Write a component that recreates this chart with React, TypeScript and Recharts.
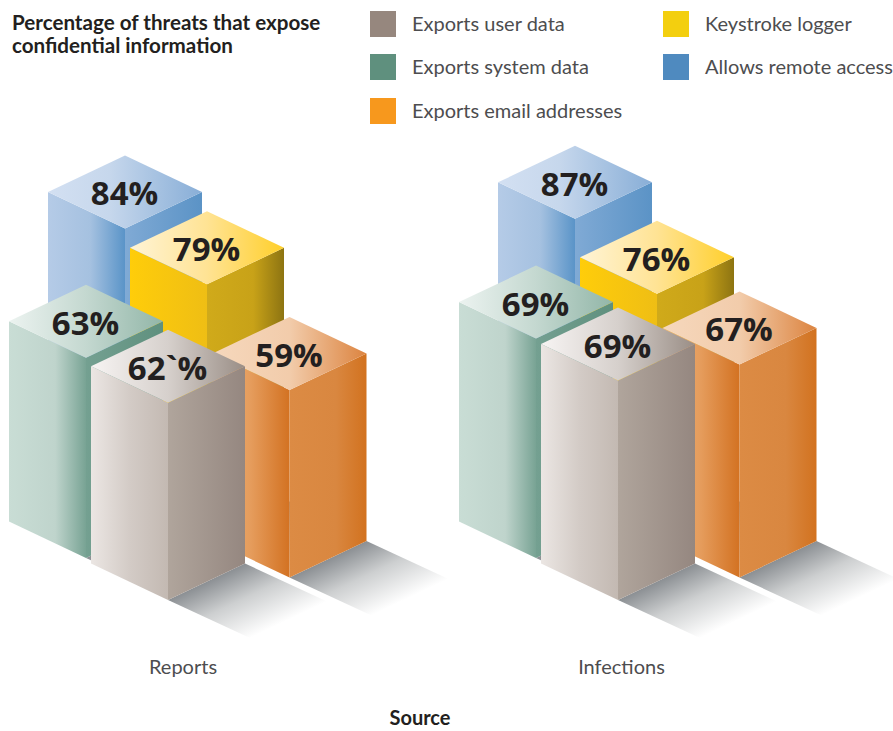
import { BarChart, Bar, XAxis, YAxis, Legend } from 'recharts';

// Percentage of threats per report type
const categories = ['Reports', 'Infections'];
const userData = [62, 69];
const systemData = [63, 69];
const emailData = [59, 67];
const keystrokeData = [79, 76];
const remoteData = [84, 87];
// the source prints a stray backtick on one label, kept as is
const userLabels = ['62`%', '69%'];

const chartData = categories.map((name, i) => ({
  name,
  user: userData[i],
  system: systemData[i],
  email: emailData[i],
  keystroke: keystrokeData[i],
  remote: remoteData[i],
}));

const TEXT_FONT = 'Lato, sans-serif';
const LABEL_FONT = '"Open Sans", sans-serif';
const HALF_W = 77;
const HALF_H = 36.5;
const SHADOW_DX = 82;
const SHADOW_DY = 38;

type Stop = [number, string];
interface BoxStyle {
  key: string;
  dx: number; // front edge, relative to the band centre
  dy: number; // floor offset of the box
  left: Stop[];
  right: Stop[];
  top: Stop[];
}

const boxStyles: Record<string, BoxStyle> = {
  remote: {
    key: 'remote', dx: -62.5, dy: -104.5,
    left: [[0, '#b5cbe7'], [0.55, '#a5c1e0'], [1, '#5a94c8']],
    right: [[0, '#80aad5'], [1, '#5b93c6']],
    top: [[0, '#d3e0f2'], [0.4, '#c6d7ec'], [1, '#88aed7']],
  },
  keystroke: {
    key: 'keystroke', dx: 19.5, dy: -64.5,
    left: [[0, '#ffcd0a'], [1, '#efbe14']],
    right: [[0, '#d0aa1a'], [0.6, '#c8a218'], [1, '#8d7412']],
    top: [[0, '#fff4d6'], [0.5, '#ffe394'], [1, '#ffcf2a']],
  },
  system: {
    key: 'system', dx: -101.5, dy: -42,
    left: [[0, '#c9ddd5'], [0.6, '#bfd4cc'], [1, '#78a394']],
    right: [[0, '#74a091'], [1, '#5f907e']],
    top: [[0, '#ecf3f0'], [0.5, '#c4d8d0'], [1, '#92b6a8']],
  },
  email: {
    key: 'email', dx: 102, dy: -22.5,
    left: [[0, '#efb47c'], [0.5, '#e59c5c'], [1, '#d37222']],
    right: [[0, '#dc8b44'], [0.6, '#d98740'], [1, '#d2721f']],
    top: [[0, '#f6d8bd'], [0.5, '#f2ccab'], [1, '#dc8440']],
  },
  user: {
    key: 'user', dx: -19.5, dy: 0,
    left: [[0, '#ebe6e3'], [0.5, '#d3cbc6'], [1, '#c3b9b2']],
    right: [[0, '#b0a59c'], [1, '#958780']],
    top: [[0, '#f7f4f3'], [0.5, '#d6d0cc'], [1, '#9a8e86']],
  },
};

const gradient = (id: string, stops: Stop[]) => (
  <linearGradient id={id} key={id} x1="0" y1="0" x2="1" y2="0">
    {stops.map(([offset, color]) => (
      <stop key={offset} offset={offset} stopColor={color} />
    ))}
  </linearGradient>
);

// Draws one bar as an isometric box, height comes from the bar rect
function boxShape(style: BoxStyle) {
  return function Box(props: any) {
    const { x, y, width, height, index, value } = props;
    const cx = x + width / 2 + style.dx;
    const frontTop = y + style.dy;
    const frontBottom = y + height + style.dy;
    const shadowId = `shadow-${style.key}-${index}`;

    // fade the shadow at a right angle to the bottom edge of the box
    const len = Math.hypot(HALF_W, HALF_H);
    const nx = HALF_H / len;
    const ny = HALF_W / len;
    const dist = SHADOW_DX * nx + SHADOW_DY * ny;
    const raw = Array.isArray(value) ? value[1] - value[0] : value;
    const label = style.key === 'user' ? userLabels[index] : `${raw}%`;

    return (
      <g>
        <defs>
          <linearGradient
            id={shadowId}
            gradientUnits="userSpaceOnUse"
            x1={cx}
            y1={frontBottom}
            x2={cx + nx * dist}
            y2={frontBottom + ny * dist}
          >
            <stop offset="0" stopColor="#8b8f93" />
            <stop offset="0.45" stopColor="#cdcfd0" />
            <stop offset="1" stopColor="#ffffff" />
          </linearGradient>
        </defs>
        <polygon
          points={`${cx},${frontBottom} ${cx + HALF_W},${frontBottom - HALF_H} ${cx + HALF_W + SHADOW_DX},${frontBottom - HALF_H + SHADOW_DY} ${cx + SHADOW_DX},${frontBottom + SHADOW_DY}`}
          fill={`url(#${shadowId})`}
        />
        <polygon
          points={`${cx - HALF_W},${frontTop - HALF_H} ${cx},${frontTop} ${cx},${frontBottom} ${cx - HALF_W},${frontBottom - HALF_H}`}
          fill={`url(#left-${style.key})`}
        />
        <polygon
          points={`${cx},${frontTop} ${cx + HALF_W},${frontTop - HALF_H} ${cx + HALF_W},${frontBottom - HALF_H} ${cx},${frontBottom}`}
          fill={`url(#right-${style.key})`}
        />
        <polygon
          points={`${cx},${frontTop - 2 * HALF_H} ${cx + HALF_W},${frontTop - HALF_H} ${cx},${frontTop} ${cx - HALF_W},${frontTop - HALF_H}`}
          fill={`url(#top-${style.key})`}
        />
        <text
          x={cx - 0.5}
          y={frontTop - HALF_H + 1}
          textAnchor="middle"
          dominantBaseline="central"
          fontFamily={LABEL_FONT}
          fontWeight={700}
          fontSize={33}
          fill="#231f20"
        >
          {label}
        </text>
      </g>
    );
  };
}

// Category labels do not sit quite under the middle of their boxes
const tickShift = [-4.5, -16];

function CategoryTick({ x, y, payload, index }: any) {
  return (
    <text
      x={x + tickShift[index]}
      y={y + 58}
      textAnchor="middle"
      dominantBaseline="central"
      fontFamily={TEXT_FONT}
      fontSize={20}
      fill="#4d4d4f"
    >
      {payload.value}
    </text>
  );
}

const legendPlaces: Record<string, { left: number; top: number }> = {
  'Exports user data': { left: 370, top: 11 },
  'Exports system data': { left: 370, top: 54 },
  'Exports email addresses': { left: 370, top: 98 },
  'Keystroke logger': { left: 663, top: 11 },
  'Allows remote access': { left: 663, top: 54 },
};

function LegendBlock({ payload }: any) {
  return (
    <div style={{ position: 'relative', width: 893, height: 130 }}>
      {(payload ?? []).map((item: any) => {
        const place = legendPlaces[item.value];
        return (
          <div
            key={item.value}
            style={{
              position: 'absolute',
              left: place.left,
              top: place.top,
              display: 'flex',
              alignItems: 'center',
              height: 26,
              whiteSpace: 'nowrap',
              fontFamily: TEXT_FONT,
              fontSize: 20,
              color: '#4d4d4f',
            }}
          >
            <span style={{ width: 26, height: 26, marginRight: 16, background: item.color }} />
            <span style={{ position: 'relative', top: -1.5 }}>{item.value}</span>
          </div>
        );
      })}
    </div>
  );
}

export default function App() {
  return (
    <div style={{ position: 'absolute', left: 0, top: 0, width: 893, height: 731, overflow: 'hidden' }}>
      <BarChart
        width={893}
        height={731}
        data={chartData}
        margin={{ top: 282, right: 30.5, bottom: 71, left: -37.5 }}
        barSize={154}
        barGap={-154}
      >
        <defs>
          {Object.values(boxStyles).flatMap((s) => [
            gradient(`left-${s.key}`, s.left),
            gradient(`right-${s.key}`, s.right),
            gradient(`top-${s.key}`, s.top),
          ])}
        </defs>
        <text fontFamily={TEXT_FONT} fontWeight={700} fontSize={20.6} fill="#231f20">
          <tspan x={12} y={30}>Percentage of threats that expose</tspan>
          <tspan x={12} y={53}>confidential information</tspan>
        </text>
        <text x={420} y={725} textAnchor="middle" fontFamily={TEXT_FONT} fontWeight={700} fontSize={20} fill="#231f20">
          Source
        </text>
        <XAxis dataKey="name" height={60} axisLine={false} tickLine={false} tick={CategoryTick} interval={0} />
        <YAxis hide domain={[0, 100]} />
        <Legend
          layout="horizontal"
          align="center"
          verticalAlign="middle"
          wrapperStyle={{ position: 'absolute', left: 0, top: 0, width: 893, height: 130 }}
          content={LegendBlock}
        />
        {/* back to front, boxes overlap each other */}
        <Bar dataKey="remote" name="Allows remote access" fill="#4f8abf" shape={boxShape(boxStyles.remote)} isAnimationActive={false} />
        <Bar dataKey="keystroke" name="Keystroke logger" fill="#f3cf0f" shape={boxShape(boxStyles.keystroke)} isAnimationActive={false} />
        <Bar dataKey="system" name="Exports system data" fill="#5f907e" shape={boxShape(boxStyles.system)} isAnimationActive={false} />
        <Bar dataKey="email" name="Exports email addresses" fill="#f7981d" shape={boxShape(boxStyles.email)} isAnimationActive={false} />
        <Bar dataKey="user" name="Exports user data" fill="#96877e" shape={boxShape(boxStyles.user)} isAnimationActive={false} />
      </BarChart>
    </div>
  );
}
